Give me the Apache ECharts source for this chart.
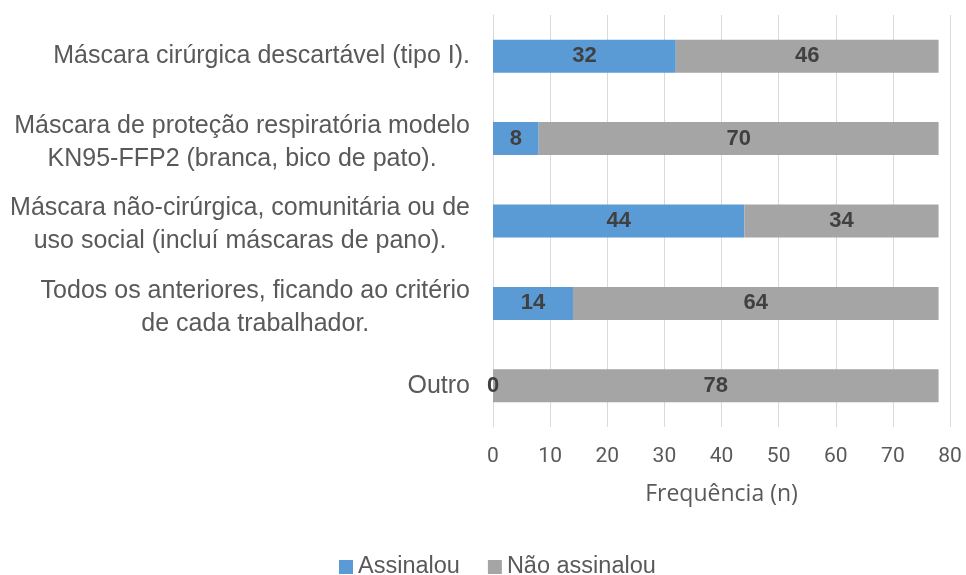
<!DOCTYPE html>
<html><head><meta charset="utf-8">
<script src="https://cdn.jsdelivr.net/npm/echarts@6/dist/echarts.min.js"></script>
<style>html,body{margin:0;padding:0;background:#fff}#c{width:966px;height:575px}</style>
</head><body><div id="c"></div>
<script>
const categories = [
  "Máscara cirúrgica descartável (tipo I).",
  "Máscara de proteção respiratória modelo\nKN95-FFP2 (branca, bico de pato).",
  "Máscara não-cirúrgica, comunitária ou de\nuso social (incluí máscaras de pano).",
  "Todos os anteriores, ficando ao critério\nde cada trabalhador.",
  "Outro"
];
const assinalou = [32, 8, 44, 14, 0];
const naoAssinalou = [46, 70, 34, 64, 78];
const seriesNames = ["Assinalou", "Não assinalou"];
const xTicks = {min: 0, max: 80, interval: 10};
const axisName = "Frequência (n)";

const chart = echarts.init(document.getElementById('c'));
const labelStyle = {show: true, position: 'inside', color: '#404040', fontWeight: 'bold', fontSize: 22, fontFamily: 'Liberation Sans, Arial, sans-serif'};
chart.setOption({
  animation: false,
  grid: {left: 493, right: 16, top: 15, bottom: 148, containLabel: false},
  legend: {
    top: 550, left: 334, itemWidth: 14, itemHeight: 14, itemGap: 28,
    icon: 'rect',
    textStyle: {fontSize: 23.5, color: '#595959', fontFamily: 'Liberation Sans, Arial, sans-serif', padding: [0,0,0,0]},
    data: seriesNames
  },
  xAxis: {
    type: 'value', min: xTicks.min, max: xTicks.max, interval: xTicks.interval,
    name: axisName, nameLocation: 'middle', nameGap: 56,
    nameTextStyle: {fontSize: 23, color: '#595959', fontFamily: 'Open Sans, sans-serif'},
    axisLine: {show: false}, axisTick: {show: false},
    axisLabel: {fontSize: 21, color: '#595959', margin: 19, fontFamily: 'Roboto, sans-serif'},
    splitLine: {lineStyle: {color: '#d9d9d9', width: 1}}
  },
  yAxis: {
    type: 'category', inverse: true, data: categories,
    axisLine: {lineStyle: {color: '#d9d9d9'}},
    axisTick: {length: 5, lineStyle: {color: '#d9d9d9'}},
    axisLabel: {
      margin: 23, color: '#595959', fontSize: 25, fontFamily: 'Liberation Sans, Arial, sans-serif',
      formatter: v => {
        const lines = v.split('\n').map(l => '{c|' + l + '}');
        return (lines.length > 1 ? '{s| }\n' : '') + lines.join('\n');
      },
      rich: {
        c: {align: 'center', fontSize: 25, lineHeight: 33, color: '#595959', fontFamily: 'Liberation Sans, Arial, sans-serif'},
        s: {fontSize: 2, lineHeight: 8}
      }
    }
  },
  series: [
    {name: seriesNames[0], type: 'bar', stack: 't', data: assinalou, barWidth: '40%',
     itemStyle: {color: '#5b9bd5'}, label: labelStyle},
    {name: seriesNames[1], type: 'bar', stack: 't', data: naoAssinalou, barWidth: '40%',
     itemStyle: {color: '#a5a5a5'}, label: labelStyle}
  ]
});
</script></body></html>
